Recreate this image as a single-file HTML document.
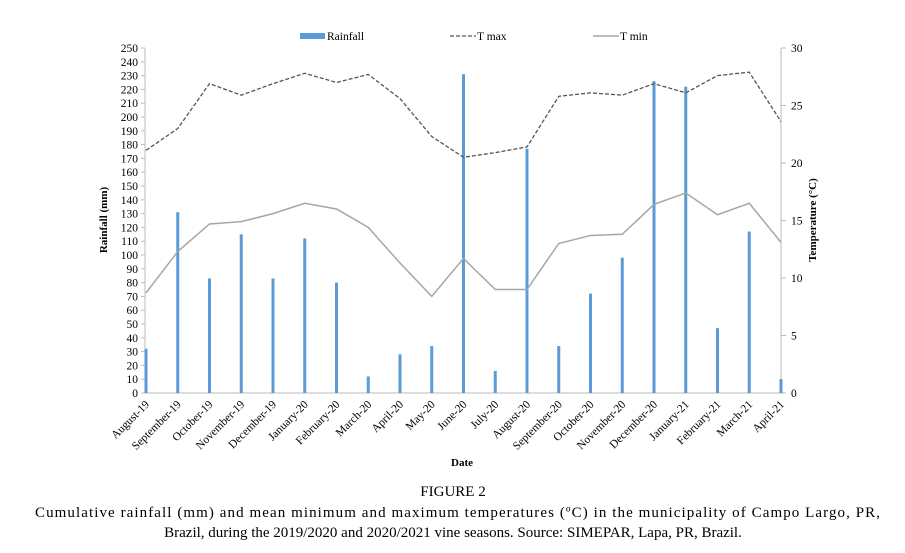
<!DOCTYPE html>
<html><head><meta charset="utf-8"><style>
body{margin:0;background:#fff;font-family:"Liberation Serif",serif;}
svg text{font-family:"Liberation Serif",serif;}
</style></head><body>
<svg width="905" height="548" xmlns="http://www.w3.org/2000/svg" font-family="Liberation Serif, serif">
<g id="plot" font-family="Liberation Serif, serif"></g>
<text x="453" y="496" font-size="15" text-anchor="middle">FIGURE 2</text>
<text x="35" y="517" font-size="15" textLength="845" lengthAdjust="spacing">Cumulative rainfall (mm) and mean minimum and maximum temperatures (ºC) in the municipality of Campo Largo, PR,</text>
<text x="453" y="537" font-size="15" text-anchor="middle">Brazil, during the 2019/2020 and 2020/2021 vine seasons. Source: SIMEPAR, Lapa, PR, Brazil.</text>
</svg>
<script>
const categories=["August-19","September-19","October-19","November-19","December-19","January-20","February-20","March-20","April-20","May-20","June-20","July-20","August-20","September-20","October-20","November-20","December-20","January-21","February-21","March-21","April-21"];
const rainfall=[32,131,83,115,83,112,80,12,28,34,231,16,177,34,72,98,226,222,47,117,10];
const tmax=[21.1,23.0,26.9,25.9,26.9,27.8,27.0,27.7,25.6,22.3,20.5,20.9,21.4,25.8,26.1,25.9,26.9,26.1,27.6,27.9,23.6];
const tmin=[8.7,12.3,14.7,14.9,15.6,16.5,16.0,14.4,11.3,8.4,11.7,9.0,9.0,13.0,13.7,13.8,16.4,17.4,15.5,16.5,13.1];
const leftTicks=[0,10,20,30,40,50,60,70,80,90,100,110,120,130,140,150,160,170,180,190,200,210,220,230,240,250];
const rightTicks=[0,5,10,15,20,25,30];
const NS="http://www.w3.org/2000/svg";
const g=document.getElementById('plot');
const X0=146,X1=781,Y0=393,Y1=48;
const xs=i=>X0+i*(X1-X0)/(categories.length-1);
const yl=v=>Y0-v/250*(Y0-Y1);
const yr=v=>Y0-v/30*(Y0-Y1);
function mk(t,a,txt){const e=document.createElementNS(NS,t);for(const k in a)e.setAttribute(k,a[k]);if(txt!==undefined)e.textContent=txt;g.appendChild(e);return e;}
let e;
e=mk('line',{x1:X0-1,y1:Y1,x2:X0-1,y2:Y0,stroke:'#bbb'});


e=mk('line',{x1:X1,y1:Y1,x2:X1,y2:Y0,stroke:'#bbb'});


e=mk('line',{x1:X0-1,y1:Y0,x2:X1,y2:Y0,stroke:'#bbb'});


leftTicks.forEach(v=>{
 mk('line',{x1:X0-5,y1:yl(v),x2:X0-1,y2:yl(v),stroke:'#bbb'});
 e=mk('text',{x:X0-8,y:yl(v)+4,'font-size':11.5,'text-anchor':'end'},v);
 
 
});
rightTicks.forEach(v=>{
 mk('line',{x1:X1,y1:yr(v),x2:X1+5,y2:yr(v),stroke:'#bbb'});
 e=mk('text',{x:X1+10,y:yr(v)+4,'font-size':11.5},v);
 
 
});
rainfall.forEach((v,i)=>{
 e=mk('rect',{x:xs(i)-1.5,y:yl(v),width:3,height:Y0-yl(v),fill:'#5b9bd5'});
 
 
});
e=mk('polyline',{points:tmax.map((v,i)=>xs(i)+','+yr(v)).join(' '),fill:'none',stroke:'#555','stroke-width':1.3,'stroke-dasharray':'4,2'});


e=mk('polyline',{points:tmin.map((v,i)=>xs(i)+','+yr(v)).join(' '),fill:'none',stroke:'#a6a6a6','stroke-width':1.5});


categories.forEach((c,i)=>{
 const x=xs(i)+4,y=Y0+12;
 e=mk('text',{x:x,y:y,'font-size':11.5,'text-anchor':'end',transform:`rotate(-45 ${x} ${y})`},c);
 
 
});
e=mk('text',{x:462,y:466,'font-size':11,'font-weight':'bold','text-anchor':'middle'},'Date');


e=mk('text',{x:0,y:0,'font-size':11,'font-weight':'bold','text-anchor':'middle',transform:'translate(107 220) rotate(-90)'},'Rainfall (mm)');


e=mk('text',{x:0,y:0,'font-size':11,'font-weight':'bold','text-anchor':'middle',transform:'translate(816 220) rotate(-90)'},'Temperature (°C)');


e=mk('rect',{x:300,y:33,width:25,height:6,fill:'#5b9bd5'});


e=mk('text',{x:327,y:40,'font-size':11.5},'Rainfall');


e=mk('line',{x1:450,y1:36,x2:476,y2:36,stroke:'#555','stroke-width':1.3,'stroke-dasharray':'4,2'});


e=mk('text',{x:477,y:40,'font-size':11.5},'T max');


e=mk('line',{x1:593,y1:36,x2:619,y2:36,stroke:'#a6a6a6','stroke-width':1.5});


e=mk('text',{x:620,y:40,'font-size':11.5},'T min');


</script>
</body></html>
